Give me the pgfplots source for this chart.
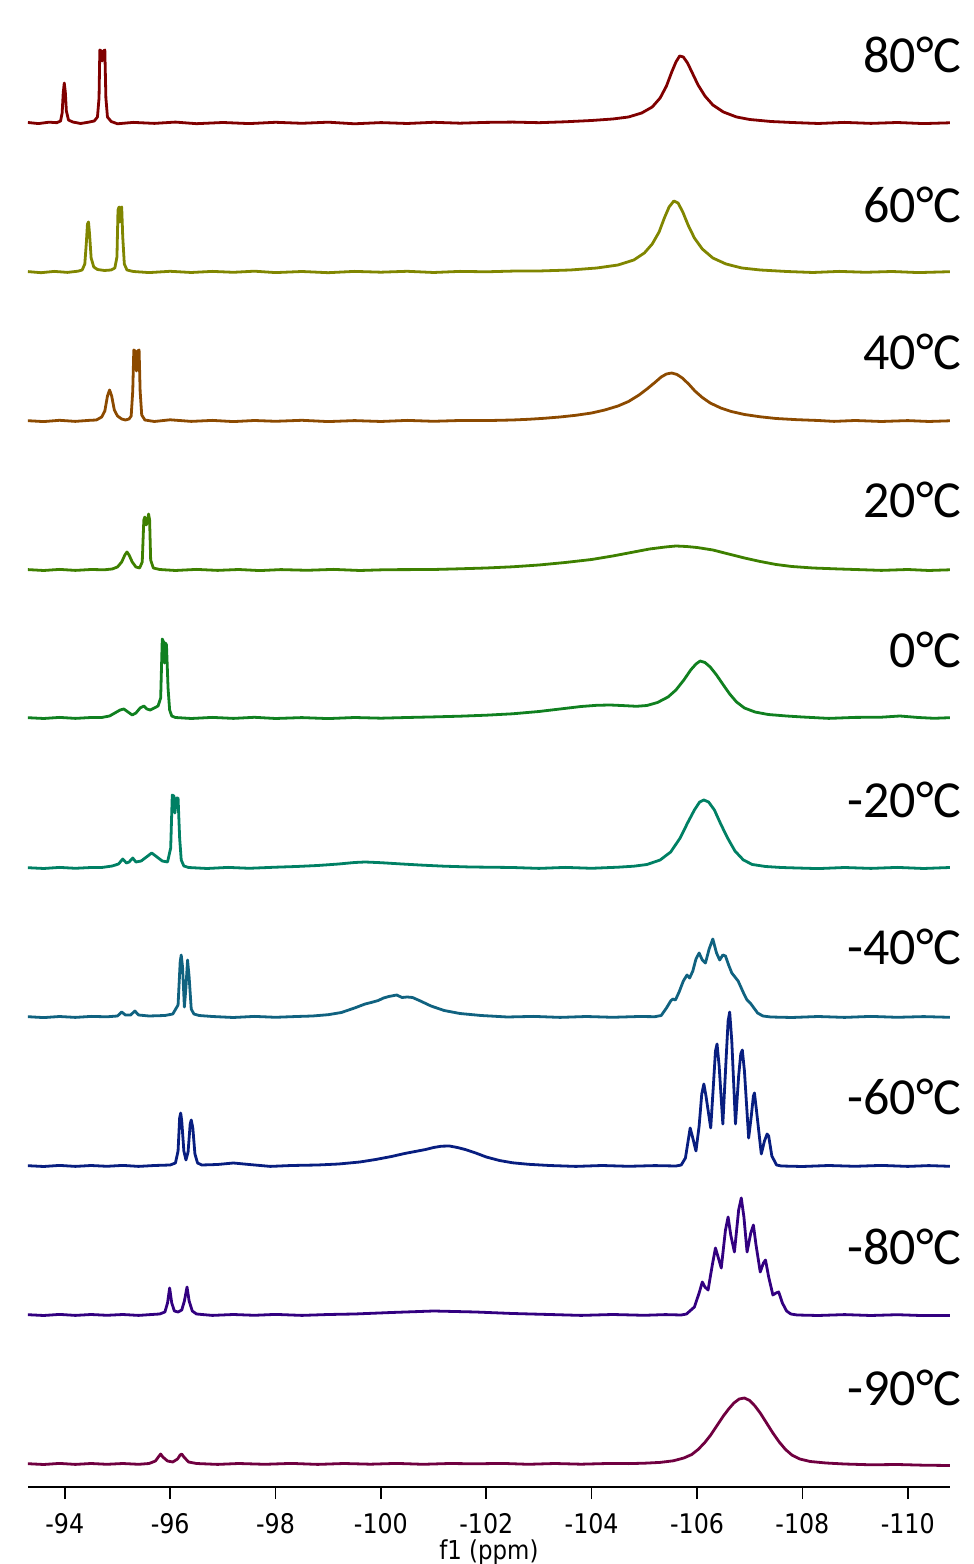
\documentclass[border=0pt]{standalone}
\usepackage{pgfplots}
\pgfplotsset{compat=1.18}
\usepackage{fontspec}
\setmainfont{DejaVu Sans}
\newfontfamily\tempfont{Carlito}
\newfontfamily\tickfont{DejaVu Sans}[FakeStretch=0.88]

\definecolor{c80}{RGB}{128,0,0}
\definecolor{c60}{RGB}{128,134,0}
\definecolor{c40}{RGB}{140,74,0}
\definecolor{c20}{RGB}{62,128,0}
\definecolor{c0}{RGB}{16,128,32}
\definecolor{cm20}{RGB}{0,128,100}
\definecolor{cm40}{RGB}{16,98,128}
\definecolor{cm60}{RGB}{8,30,128}
\definecolor{cm80}{RGB}{50,0,128}
\definecolor{cm90}{RGB}{112,0,64}

\begin{document}
\begin{tikzpicture}
\begin{axis}[
  scale only axis, width=461pt, height=743.5pt,
  xmin=-110.8, xmax=-93.3, x dir=reverse,
  ymin=77, ymax=1564,
  axis x line=bottom, axis y line=none,
  axis line style={line width=1pt, -},
  xtick={-94,-96,-98,-100,-102,-104,-106,-108,-110},
  xticklabels={-94,-96,-98,-100,-102,-104,-106,-108,-110},
  tick align=outside, major tick length=6pt,
  tick style={line width=0.8pt, black},
  xticklabel shift=3.5pt,
  xticklabel style={font=\tickfont\fontsize{13.5}{14}\selectfont},
  xlabel={f1 (ppm)},
  xlabel style={font=\tickfont\fontsize{13}{14}\selectfont, inner sep=0pt, yshift=0.5pt},
  clip=false,
  every axis plot/.append style={line width=1.4pt, line join=round},
  off/.style={y filter/.expression={y+#1}},
]
% corners of the whole picture
\coordinate (bl) at (axis cs:-92.77,0);
\coordinate (tr) at (axis cs:-111.24,1564);

% 80 C
\addplot[c80, off=1441] coordinates {
(-93.30,0.5)(-93.50,-0.6)(-93.70,0.8)(-93.85,0.3)(-93.92,2)(-93.95,10)(-93.97,30)(-93.99,40)(-94.01,31)(-94.03,12)(-94.07,3)(-94.15,1)(-94.30,-0.5)(-94.45,0.8)(-94.56,2)(-94.62,6)(-94.65,25)(-94.665,73)(-94.69,72)(-94.71,62)(-94.735,72)(-94.76,73)(-94.78,25)(-94.81,6)(-94.88,1.5)(-95.0,-0.8)(-95.3,0.6)(-95.7,-0.4)(-96.1,0.9)(-96.5,-0.7)(-97.0,0.5)(-97.5,-0.6)(-98.0,0.7)(-98.5,-0.3)(-99.0,0.8)(-99.5,-0.8)(-100.0,0.4)(-100.5,-0.5)(-101.0,0.7)(-101.5,-0.2)(-102.0,0.6)(-102.5,0.9)(-103.0,0.3)(-103.5,1.2)(-104.0,2.5)(-104.4,4)(-104.7,6)(-104.95,10)(-105.15,16)(-105.3,25)(-105.42,37)(-105.52,51)(-105.6,61)(-105.67,67)(-105.74,66)(-105.82,60)(-105.92,49)(-106.02,38)(-106.15,27)(-106.3,18)(-106.5,11)(-106.75,6)(-107.0,3.5)(-107.4,1.5)(-107.8,0.5)(-108.3,-0.5)(-108.8,0.6)(-109.3,-0.4)(-109.8,0.5)(-110.3,-0.6)(-110.8,0.2)
};
% 60 C
\addplot[c60, off=1292] coordinates {
(-93.30,0.4)(-93.55,-0.7)(-93.8,0.6)(-94.05,-0.4)(-94.25,0.8)(-94.33,2)(-94.38,8)(-94.41,30)(-94.43,48)(-94.45,50)(-94.47,38)(-94.50,14)(-94.55,5)(-94.62,2.5)(-94.75,1.5)(-94.88,2)(-94.95,4)(-94.99,15)(-95.01,62)(-95.03,65)(-95.045,50)(-95.06,64)(-95.08,65)(-95.10,35)(-95.13,8)(-95.18,2)(-95.3,0.5)(-95.6,-0.6)(-96.0,0.7)(-96.4,-0.5)(-96.8,0.6)(-97.2,-0.3)(-97.6,0.8)(-98.0,-0.6)(-98.5,0.5)(-99.0,-0.7)(-99.5,0.6)(-100.0,-0.2)(-100.5,0.7)(-101.0,-0.5)(-101.5,0.6)(-102.0,0.2)(-102.5,0.9)(-103.0,1)(-103.6,2)(-104.1,4)(-104.5,7)(-104.8,12)(-105.0,19)(-105.15,28)(-105.28,40)(-105.38,54)(-105.47,65)(-105.56,71)(-105.64,69)(-105.73,60)(-105.83,47)(-105.95,34)(-106.1,23)(-106.3,14)(-106.55,8)(-106.85,4)(-107.2,2)(-107.7,0.5)(-108.2,-0.5)(-108.7,0.6)(-109.2,-0.3)(-109.7,0.5)(-110.2,-0.6)(-110.8,0.3)
};
% 40 C
\addplot[c40, off=1143] coordinates {
(-93.30,0.3)(-93.6,-0.6)(-93.9,0.7)(-94.2,-0.4)(-94.45,0.6)(-94.6,1)(-94.7,4)(-94.76,10)(-94.81,25)(-94.85,31)(-94.89,25)(-94.94,11)(-95.0,5)(-95.08,2)(-95.15,1)(-95.22,2)(-95.26,5)(-95.29,30)(-95.31,71)(-95.335,70)(-95.36,50)(-95.385,70)(-95.41,71)(-95.43,30)(-95.46,6)(-95.52,1)(-95.7,-0.5)(-96.0,1.2)(-96.4,-0.4)(-96.8,0.6)(-97.2,-0.6)(-97.6,0.5)(-98.0,-0.3)(-98.5,0.7)(-99.0,-0.6)(-99.5,0.4)(-100.0,-0.5)(-100.5,0.6)(-101.0,-0.3)(-101.5,0.5)(-102.0,0.4)(-102.5,1)(-102.8,1.7)(-103.1,2.7)(-103.4,4)(-103.7,5.7)(-104.0,8)(-104.25,11)(-104.5,15)(-104.7,19.5)(-104.9,26)(-105.05,32)(-105.2,38.5)(-105.32,44)(-105.42,47)(-105.52,48)(-105.62,46.5)(-105.72,43)(-105.84,37)(-105.96,30)(-106.1,23.5)(-106.25,18)(-106.45,13)(-106.65,9.5)(-106.9,6.5)(-107.2,4.2)(-107.5,2.5)(-107.9,1.3)(-108.3,0.5)(-108.6,-0.4)(-109.0,0.5)(-109.5,-0.5)(-110.0,0.4)(-110.4,-0.5)(-110.8,0.2)
};
% 20 C
\addplot[c20, off=994] coordinates {
(-93.30,0.4)(-93.6,-0.5)(-93.9,0.6)(-94.2,-0.4)(-94.5,0.5)(-94.75,0.2)(-94.9,1)(-95.0,3)(-95.08,8)(-95.14,15)(-95.18,18)(-95.22,15)(-95.28,8)(-95.35,3)(-95.42,2)(-95.47,8)(-95.50,50)(-95.52,53)(-95.545,45)(-95.57,48)(-95.59,56)(-95.61,50)(-95.63,10)(-95.68,2)(-95.8,0.5)(-96.1,-0.5)(-96.5,0.6)(-96.9,-0.4)(-97.3,0.5)(-97.7,-0.6)(-98.1,0.4)(-98.6,-0.3)(-99.1,0.6)(-99.6,-0.5)(-100.1,0.3)(-100.6,0.4)(-101.0,0.5)(-101.5,1.2)(-102.0,2)(-102.5,3.2)(-103.0,5)(-103.5,7.5)(-104.0,10.5)(-104.4,14)(-104.8,18)(-105.1,21)(-105.4,23)(-105.6,24)(-105.8,23.5)(-106.0,22.5)(-106.3,20)(-106.6,16)(-106.9,12)(-107.2,8.5)(-107.5,5.5)(-107.8,3.5)(-108.2,2)(-108.7,1)(-109.0,0.5)(-109.5,-0.4)(-110.0,0.5)(-110.4,-0.5)(-110.8,0.2)
};
% 0 C
\addplot[c0, off=846] coordinates {
(-93.30,0.3)(-93.6,-0.5)(-93.9,0.6)(-94.2,-0.4)(-94.5,0.5)(-94.7,0.5)(-94.85,2)(-94.95,5)(-95.05,8)(-95.12,9)(-95.2,6)(-95.28,3)(-95.35,5)(-95.43,10)(-95.50,12)(-95.56,9)(-95.62,8)(-95.7,10)(-95.77,12)(-95.82,20)(-95.85,79)(-95.875,76)(-95.895,55)(-95.91,75)(-95.93,73)(-95.96,30)(-95.99,8)(-96.03,2)(-96.1,0.5)(-96.4,-0.5)(-96.8,0.6)(-97.2,-0.4)(-97.6,0.7)(-98.0,-0.5)(-98.5,0.4)(-99.0,-0.6)(-99.5,0.5)(-100.0,-0.2)(-100.5,0.5)(-101.0,1.1)(-101.5,1.8)(-102.0,2.8)(-102.5,4.2)(-103.0,6.5)(-103.4,9)(-103.8,11.5)(-104.1,12.7)(-104.35,13)(-104.6,12.4)(-104.85,11.7)(-105.05,12.5)(-105.25,15.5)(-105.45,21)(-105.6,28)(-105.75,38)(-105.88,48)(-105.98,54)(-106.06,57)(-106.15,55.5)(-106.25,51)(-106.37,43)(-106.5,33)(-106.62,24)(-106.75,16)(-106.9,10)(-107.1,6)(-107.35,3.5)(-107.7,2)(-108.0,1)(-108.5,-0.4)(-109.0,0.6)(-109.5,0.8)(-109.85,2)(-110.2,0.5)(-110.5,-0.3)(-110.8,0.3)
};
% -20 C
\addplot[cm20, off=696] coordinates {
(-93.30,0.3)(-93.6,-0.5)(-93.9,0.6)(-94.2,-0.3)(-94.5,0.5)(-94.7,0.5)(-94.9,2)(-95.02,4)(-95.10,9)(-95.17,5)(-95.22,6)(-95.29,10)(-95.35,6)(-95.45,7)(-95.55,11)(-95.65,15)(-95.75,11)(-95.85,7)(-95.95,6)(-96.01,20)(-96.04,73)(-96.07,72)(-96.09,55)(-96.12,70)(-96.15,70)(-96.18,30)(-96.21,8)(-96.26,2)(-96.35,0.5)(-96.7,-0.5)(-97.1,0.6)(-97.5,-0.3)(-98.0,0.8)(-98.4,1.5)(-98.8,2.5)(-99.2,4)(-99.5,5.5)(-99.7,6)(-100.0,5.3)(-100.4,4)(-100.8,2.8)(-101.2,1.8)(-101.7,1)(-102.5,0.5)(-103.0,-0.4)(-103.5,0.6)(-104.0,-0.3)(-104.5,0.8)(-104.8,1.8)(-105.05,3.5)(-105.3,8)(-105.5,16)(-105.68,30)(-105.82,45)(-105.95,58)(-106.05,66)(-106.13,68)(-106.22,66)(-106.33,58)(-106.45,44)(-106.58,30)(-106.72,17)(-106.88,8)(-107.05,3.5)(-107.3,1.5)(-107.6,0.5)(-107.9,0)(-108.3,-0.6)(-108.8,0.5)(-109.3,-0.4)(-109.8,0.6)(-110.3,-0.5)(-110.8,0.5)
};
% -40 C
\addplot[cm40, off=547] coordinates {
(-93.30,0.3)(-93.6,-0.6)(-93.9,0.5)(-94.2,-0.4)(-94.5,0.6)(-94.8,0.2)(-95.0,1)(-95.08,5)(-95.15,2)(-95.25,2)(-95.33,6)(-95.40,2)(-95.6,1)(-95.9,1.5)(-96.05,3)(-96.15,12)(-96.19,55)(-96.21,62)(-96.235,50)(-96.27,10)(-96.30,30)(-96.33,57)(-96.36,40)(-96.40,8)(-96.45,3)(-96.55,1.5)(-96.8,0.5)(-97.2,-0.5)(-97.6,0.6)(-98.0,-0.3)(-98.4,0.5)(-98.7,1)(-99.0,2.3)(-99.25,4.5)(-99.5,9)(-99.7,13)(-99.85,15)(-99.95,16.5)(-100.05,19)(-100.15,20.5)(-100.3,22)(-100.4,19.5)(-100.5,20)(-100.6,19.5)(-100.75,16)(-100.95,11)(-101.2,6.5)(-101.5,3.5)(-101.9,1.5)(-102.4,0)(-102.9,0.6)(-103.4,-0.4)(-103.9,0.5)(-104.4,-0.3)(-104.9,0.5)(-105.2,0.3)(-105.32,1.5)(-105.42,9)(-105.50,16)(-105.54,18)(-105.59,17)(-105.66,25)(-105.74,36)(-105.81,42)(-105.86,39)(-105.92,46)(-105.98,58)(-106.04,64)(-106.10,57)(-106.16,54)(-106.23,68)(-106.30,78)(-106.37,64)(-106.43,57)(-106.49,62)(-106.54,61)(-106.60,52)(-106.66,44)(-106.72,40)(-106.78,36)(-106.84,29)(-106.90,22)(-106.95,17)(-107.01,14)(-107.08,9)(-107.15,4)(-107.25,1)(-107.4,0)(-107.8,-0.5)(-108.3,0.5)(-108.8,-0.4)(-109.3,0.6)(-109.8,-0.3)(-110.3,0.4)(-110.8,-0.3)
};
% -60 C
\addplot[cm60, off=398] coordinates {
(-93.30,0.3)(-93.6,-0.5)(-93.9,0.6)(-94.2,-0.4)(-94.5,0.5)(-94.8,-0.3)(-95.1,0.6)(-95.4,-0.4)(-95.7,0.5)(-96.0,1)(-96.1,3)(-96.15,15)(-96.18,48)(-96.20,53)(-96.22,45)(-96.26,15)(-96.30,6)(-96.34,14)(-96.38,42)(-96.40,46)(-96.43,38)(-96.47,12)(-96.52,3)(-96.6,1)(-96.9,1.5)(-97.2,3)(-97.5,1.5)(-97.9,-0.4)(-98.3,0.5)(-98.8,1)(-99.2,2)(-99.6,4)(-99.9,6.5)(-100.2,9.5)(-100.45,12.5)(-100.65,14.5)(-100.85,16.5)(-101.0,18.5)(-101.15,19.8)(-101.3,20)(-101.45,18.5)(-101.6,16.5)(-101.8,13)(-102.0,9)(-102.25,5.5)(-102.5,3.2)(-102.8,1.7)(-103.2,0.5)(-103.7,-0.4)(-104.2,0.5)(-104.7,-0.3)(-105.2,0.4)(-105.6,0)(-105.70,1)(-105.78,8)(-105.84,28)(-105.87,38)(-105.91,30)(-105.98,15)(-106.04,40)(-106.09,72)(-106.13,82)(-106.17,70)(-106.26,38)(-106.31,80)(-106.35,115)(-106.38,122)(-106.42,100)(-106.49,42)(-106.55,105)(-106.59,145)(-106.62,154)(-106.66,125)(-106.73,42)(-106.79,90)(-106.83,112)(-106.86,116)(-106.90,95)(-106.98,28)(-107.03,50)(-107.07,70)(-107.09,73)(-107.13,55)(-107.22,12)(-107.28,25)(-107.33,32)(-107.36,30)(-107.42,10)(-107.51,1)(-107.6,0)(-108.0,-0.5)(-108.5,0.5)(-109.0,-0.3)(-109.5,0.6)(-110.0,-0.4)(-110.4,0.4)(-110.8,-0.3)
};
% -80 C
\addplot[cm80, off=249] coordinates {
(-93.30,0.3)(-93.6,-0.5)(-93.9,0.6)(-94.2,-0.4)(-94.5,0.5)(-94.8,-0.3)(-95.1,0.5)(-95.4,-0.4)(-95.65,0.5)(-95.8,1)(-95.9,3)(-95.95,12)(-95.99,27)(-96.03,12)(-96.08,4)(-96.15,3)(-96.22,5)(-96.27,14)(-96.32,28)(-96.36,14)(-96.42,4)(-96.5,1)(-96.8,-0.4)(-97.2,0.5)(-97.6,-0.3)(-98.0,0.6)(-98.5,-0.4)(-99.0,0.5)(-99.5,1)(-100.2,2.5)(-101.0,4)(-101.8,3)(-102.5,1.5)(-103.2,0.5)(-103.8,-0.4)(-104.4,0.5)(-105.0,-0.3)(-105.4,0.4)(-105.7,0)(-105.80,1)(-105.95,8)(-106.04,22)(-106.10,33)(-106.15,28)(-106.21,25)(-106.29,50)(-106.35,67)(-106.40,58)(-106.46,47)(-106.54,85)(-106.59,98)(-106.64,80)(-106.71,63)(-106.79,105)(-106.84,117)(-106.89,98)(-106.95,63)(-107.02,82)(-107.07,90)(-107.12,70)(-107.20,43)(-107.26,52)(-107.30,55)(-107.36,38)(-107.44,20)(-107.50,22)(-107.55,23)(-107.62,12)(-107.70,4)(-107.78,1)(-107.9,0)(-108.3,-0.5)(-108.8,0.4)(-109.3,-0.5)(-109.8,0.3)(-110.3,-0.6)(-110.8,-0.5)
};
% -90 C
\addplot[cm90, off=100] coordinates {
(-93.30,0.3)(-93.6,-0.5)(-93.9,0.6)(-94.2,-0.4)(-94.5,0.5)(-94.8,-0.3)(-95.1,0.5)(-95.4,-0.3)(-95.6,0.5)(-95.72,3)(-95.79,8)(-95.82,10)(-95.86,7)(-95.95,3)(-96.05,2)(-96.14,5)(-96.19,9)(-96.22,10)(-96.26,7)(-96.35,2)(-96.5,0.5)(-96.9,-0.4)(-97.3,0.5)(-97.8,-0.3)(-98.3,0.6)(-98.8,-0.4)(-99.3,0.5)(-99.8,-0.2)(-100.3,0.6)(-100.8,-0.3)(-101.3,0.5)(-101.8,0.2)(-102.3,0.6)(-102.8,-0.3)(-103.3,0.5)(-103.8,-0.2)(-104.3,0.5)(-104.7,0.4)(-105.0,0.8)(-105.3,1.6)(-105.55,3.2)(-105.75,6)(-105.9,9.5)(-106.02,14.5)(-106.14,21)(-106.26,29)(-106.38,38.5)(-106.5,48)(-106.6,55)(-106.7,61)(-106.8,65)(-106.9,66)(-107.0,63.5)(-107.1,58)(-107.2,51)(-107.32,41)(-107.44,31)(-107.56,22)(-107.68,14.5)(-107.8,9)(-107.95,5)(-108.15,2.5)(-108.45,1)(-108.8,0)(-109.3,-0.8)(-109.8,-0.5)(-110.3,-1.2)(-110.8,-1.5)
};

% temperature labels
\begin{scope}[every node/.style={anchor=east, inner sep=0pt, font=\tempfont\fontsize{26}{26}\selectfont}]
\node at (axis cs:-111.03,1509) {80°C};
\node at (axis cs:-111.03,1359) {60°C};
\node at (axis cs:-111.03,1212) {40°C};
\node at (axis cs:-111.03,1064) {20°C};
\node at (axis cs:-111.03,914) {0°C};
\node at (axis cs:-111.03,764) {-20°C};
\node at (axis cs:-111.03,617) {-40°C};
\node at (axis cs:-111.03,467) {-60°C};
\node at (axis cs:-111.03,317) {-80°C};
\node at (axis cs:-111.03,176) {-90°C};
\end{scope}
\end{axis}
\pgfresetboundingbox
\path (bl) rectangle (tr);
\end{tikzpicture}
\end{document}
